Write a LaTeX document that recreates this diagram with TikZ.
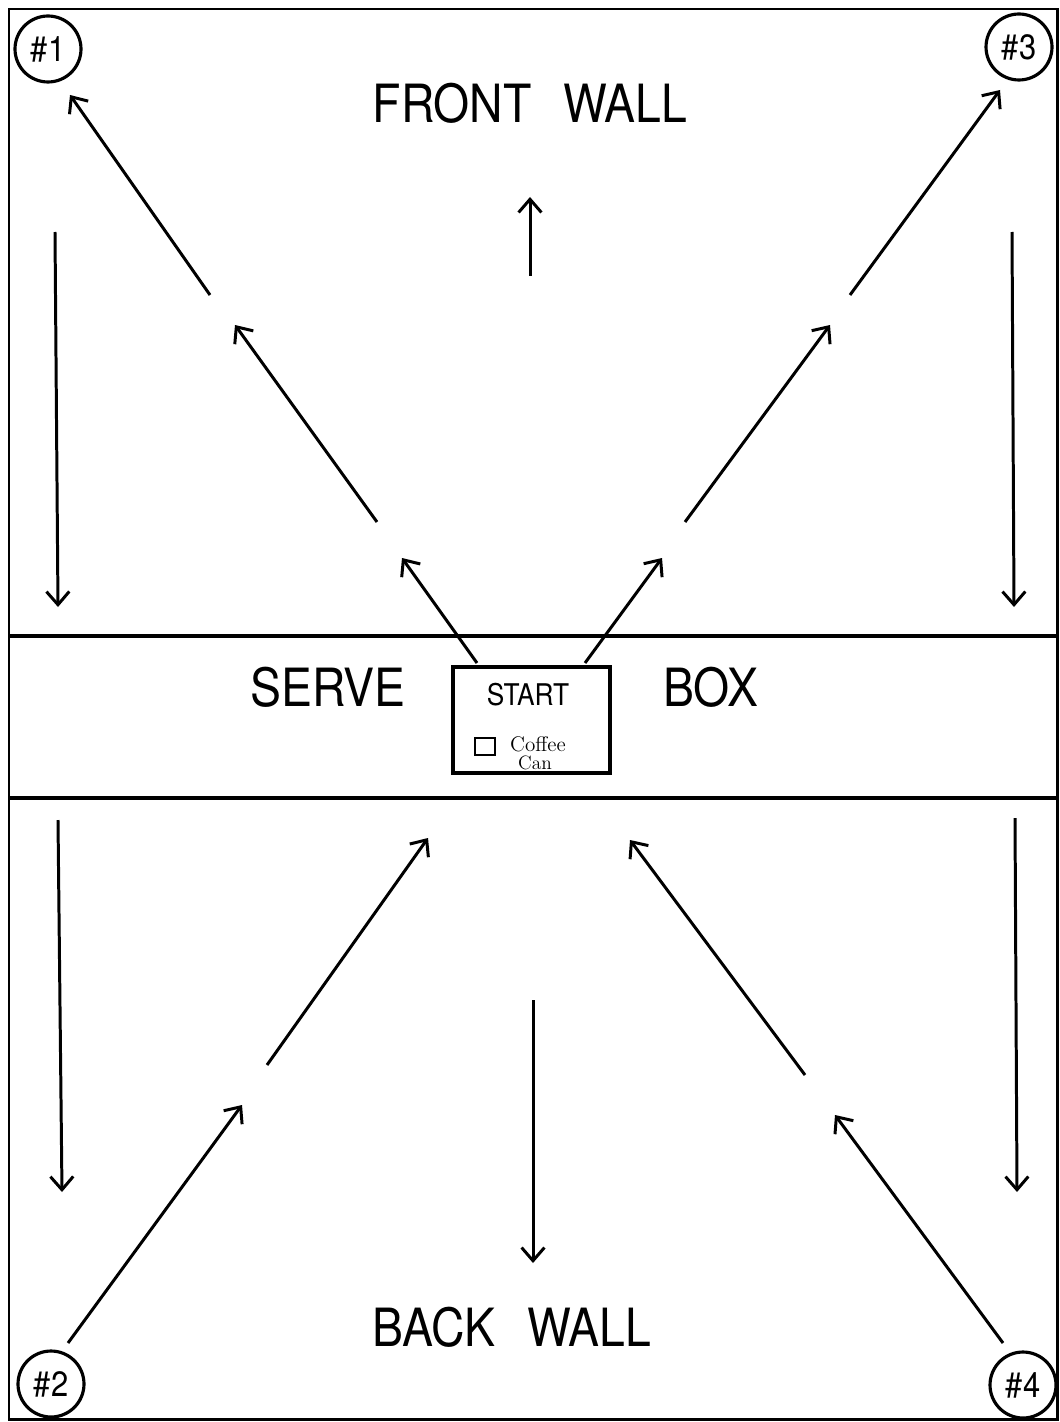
\documentclass[tikz,border=0pt]{standalone}
\usepackage{fontspec}
\newfontfamily\lettering[FakeStretch=0.88]{TeX Gyre Heros}
\usetikzlibrary{arrows.meta}
\tikzset{
  wall/.style={line width=1.7pt},
  line/.style={line width=2.1pt},
  run/.style={-{Straight Barb[length=7.5pt,width=13pt,line width=1.7pt]}, line width=1.7pt},
  spot/.style={circle, draw, line width=1.8pt, minimum size=1.32cm, inner sep=0pt,
               font=\lettering\fontsize{20}{20}\selectfont},
  big/.style={font=\lettering\fontsize{30}{30}\selectfont},
  startbox/.style={draw, line width=1.8pt, minimum width=3.14cm, minimum height=2.12cm,
                   inner sep=0pt},
  small/.style={font=\fontsize{12}{12}\selectfont, inner sep=0pt},
}

\begin{document}
\begin{tikzpicture}[x=0.02cm, y=-0.02cm]
  \useasboundingbox (0,0) rectangle (1059,1422);
  \draw[wall] (9,9) rectangle (1057,1419);
  \draw[line] (9,636) -- (1057,636);
  \draw[line] (9,798) -- (1057,798);

  \node[spot] (p1) at (48,49) {\#1};
  \node[spot] (p3) at (1019,47) {\#3};
  \node[spot] (p2) at (51,1384) {\#2};
  \node[spot] (p4) at (1023,1385) {\#4};

  \node[big] (front) at (530,103) {FRONT\hspace{0.6em}WALL};
  \node[big] (serve) at (328,687) {SERVE};
  \node[big] (box) at (711,687) {BOX};
  \node[big] (back) at (512,1327) {BACK\hspace{0.6em}WALL};

  \node[startbox] (start) at (531.5,720) {};
  \node[font=\lettering\fontsize{17}{17}\selectfont] (starttxt) at (528,695) {START};
  \draw[line width=1.2pt] (475,738) rectangle (495,755);
  \node[small] (coffee) at (538,744) {Coffee};
  \node[small, font=\fontsize{11}{11}\selectfont] (can) at (535,763) {Can};

  \draw[run] (55,232) -- (58,607);
  \draw[run] (1012,232) -- (1014,607);
  \draw[run] (530,276) -- (530,197);
  \draw[run] (210,295) -- (70,95);
  \draw[run] (377,522) -- (235,325);
  \draw[run] (477,663) -- (402,558);
  \draw[run] (850,295) -- (1000,90);
  \draw[run] (685,522) -- (830,325);
  \draw[run] (585,663) -- (662,558);

  \draw[run] (58,820) -- (62,1192);
  \draw[run] (1015,818) -- (1017,1192);
  \draw[run] (533,1000) -- (533,1263);
  \draw[run] (68,1343) -- (242,1105);
  \draw[run] (267,1065) -- (428,838);
  \draw[run] (1003,1343) -- (835,1115);
  \draw[run] (805,1075) -- (630,840);
\end{tikzpicture}
\end{document}
